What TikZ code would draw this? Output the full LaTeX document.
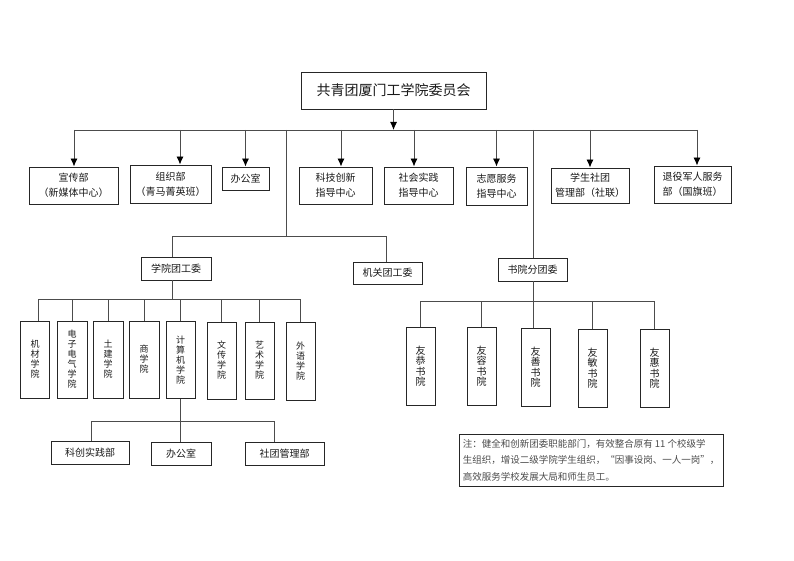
\documentclass[tikz,border=0pt]{standalone}
\usepackage{fontspec}
\setmainfont{Noto Sans CJK SC}
\usetikzlibrary{arrows.meta}
\begin{document}
\begin{tikzpicture}[x=1pt,y=-1pt]
    \tikzset{kuang/.style={draw=black!85,line width=0.9pt,inner sep=0pt,align=center,text=black!90,font=\fontsize{10}{15}\selectfont},
      dept/.style={kuang,minimum height=37pt},
      tuan/.style={kuang,minimum width=69pt,minimum height=23pt},
      coll/.style={kuang,minimum width=29pt,minimum height=77pt,font=\fontsize{9}{10}\selectfont},
      shu/.style={coll,minimum height=78pt,font=\fontsize{10}{10.5}\selectfont},
      xian/.style={draw=black!70,line width=0.9pt},
      jt/.style={xian,->,>={Latex[length=8pt,width=7pt,color=black]}}}
    \useasboundingbox (0,0) rectangle (794,561);

    \node[kuang,minimum width=185pt,minimum height=37pt,font=\fontsize{14}{16}\selectfont] (wyh) at (393.5,90.5) {共青团厦门工学院委员会};

    \node[dept,minimum width=89pt] (xcb) at (73.5,185.5) {宣传部\\（新媒体中心）};
    \node[dept,minimum width=81pt,minimum height=38pt] (zzb) at (170.5,184) {组织部\\（青马菁英班）};
    \node[kuang,minimum width=47pt,minimum height=23pt] (bgs) at (245.5,178.5) {办公室};
    \node[dept,minimum width=73pt] (kjcx) at (335.5,185.5) {科技创新\\指导中心};
    \node[dept,minimum width=69pt] (shsj) at (418.5,185.5) {社会实践\\指导中心};
    \node[dept,minimum width=61pt,minimum height=38pt] (zyfw) at (496.5,186) {志愿服务\\指导中心};
    \node[dept,minimum width=78pt,minimum height=35pt] (xsst) at (590,185.5) {学生社团\\管理部（社联）};
    \node[dept,minimum width=77pt] (tyjr) at (692.5,184.5) {退役军人服务\\部（国旗班）};

    \node[tuan,minimum width=70pt] (xytgw) at (176,268.5) {学院团工委};
    \node[tuan,minimum height=22pt] (jgtgw) at (387.5,273) {机关团工委};
    \node[tuan] (sytw) at (532.5,269.5) {书院分团委};

    \node[coll] (jc) at (35,359.5) {机\\材\\学\\院};
    \node[coll,minimum width=30pt] (dzdq) at (72,359.5) {电\\子\\电\\气\\学\\院};
    \node[coll,minimum width=30pt] (tj) at (108,359.5) {土\\建\\学\\院};
    \node[coll,minimum width=30pt] (sx) at (144,359.5) {商\\学\\院};
    \node[coll] (jsj) at (180.5,360) {计\\算\\机\\学\\院};
    \node[coll] (wc) at (221.5,360.5) {文\\传\\学\\院};
    \node[coll] (ys) at (259.5,360.5) {艺\\术\\学\\院};
    \node[coll,minimum height=78pt] (wy) at (300.5,361) {外\\语\\学\\院};

    \node[tuan,minimum width=78pt] (kcsj) at (90,452.5) {科创实践部};
    \node[tuan,minimum width=60pt] (bgs2) at (181,453.5) {办公室};
    \node[tuan,minimum width=79pt] (stgl) at (284.5,453.5) {社团管理部};

    \node[shu] (yg) at (420.5,366) {友\\恭\\书\\院};
    \node[shu] (yr) at (481.5,366) {友\\容\\书\\院};
    \node[shu] (ysh) at (535.5,367) {友\\善\\书\\院};
    \node[shu] (ym) at (592.5,368) {友\\敏\\书\\院};
    \node[shu] (yh) at (654.5,368) {友\\惠\\书\\院};

    \node[kuang,minimum width=264pt,minimum height=52pt,align=left,text=black!70,font=\fontsize{9.5}{16.5}\selectfont] (zhu) at (591,460)
    {注：健全和创新团委职能部门，有效整合原有 11 个校级学\\生组织，增设二级学院学生组织，“因事设岗、一人一岗”，\\高效服务学校发展大局和师生员工。};

    \coordinate (z1) at (74,130); \coordinate (z2) at (180,130);
    \coordinate (z4) at (341,130); \coordinate (z5) at (414,130);
    \coordinate (z8) at (697,130);
    \coordinate (f1) at (286,130); \coordinate (f2) at (533,130);
    \coordinate (g1) at (172,236); \coordinate (g2) at (386,236);
    \coordinate (h1) at (38,299); \coordinate (k) at (533,301);
    \coordinate (m1) at (91,421); \coordinate (m3) at (274,421);

    \draw[jt] (wyh) -- (wyh |- z1);
    \draw[xian] (z1) -- (z8);
    \draw[jt] (z1) -- (z1 |- xcb.north);
    \draw[jt] (z2) -- (z2 |- zzb.north);
    \draw[jt] (bgs.north |- z1) -- (bgs.north);
    \draw[jt] (z4) -- (z4 |- kjcx.north);
    \draw[jt] (z5) -- (z5 |- shsj.north);
    \draw[jt] (zyfw.north |- z1) -- (zyfw.north);
    \draw[jt] (xsst.north |- z1) -- (xsst.north);
    \draw[jt] (z8) -- (z8 |- tyjr.north);

    \draw[xian] (f1) -- (f1 |- g1);
    \draw[xian] (g1) -- (g2);
    \draw[xian] (g1) -- (g1 |- xytgw.north);
    \draw[xian] (g2) -- (g2 |- jgtgw.north);
    \draw[xian] (f2) -- (f2 |- sytw.north);

    \draw[xian] (g1 |- xytgw.south) -- (g1 |- h1);
    \draw[xian] (h1) -- (wy.north |- h1);
    \draw[xian] (h1) -- (h1 |- jc.north);
    \draw[xian] (dzdq.north |- h1) -- (dzdq.north);
    \draw[xian] (tj.north |- h1) -- (tj.north);
    \draw[xian] (sx.north |- h1) -- (sx.north);
    \draw[xian] (jsj.north |- h1) -- (jsj.north);
    \draw[xian] (wc.north |- h1) -- (wc.north);
    \draw[xian] (ys.north |- h1) -- (ys.north);
    \draw[xian] (wy.north |- h1) -- (wy.north);

    \draw[xian] (jsj.south) -- (jsj.south |- bgs2.north);
    \draw[xian] (m1) -- (m3);
    \draw[xian] (m1) -- (m1 |- kcsj.north);
    \draw[xian] (m3) -- (m3 |- stgl.north);

    \draw[xian] (f2 |- sytw.south) -- (f2 |- ysh.north);
    \draw[xian] (yg.north |- k) -- (yh.north |- k);
    \draw[xian] (yg.north |- k) -- (yg.north);
    \draw[xian] (yr.north |- k) -- (yr.north);
    \draw[xian] (ym.north |- k) -- (ym.north);
    \draw[xian] (yh.north |- k) -- (yh.north);
\end{tikzpicture}
\end{document}
